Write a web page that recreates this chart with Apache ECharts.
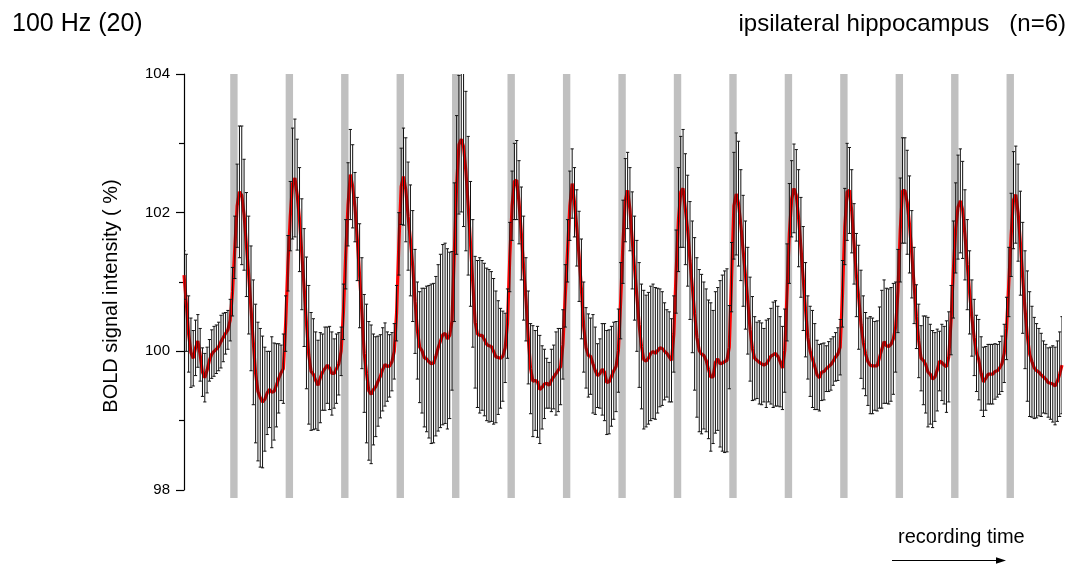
<!DOCTYPE html>
<html>
<head>
<meta charset="utf-8">
<script src="https://cdn.jsdelivr.net/npm/echarts@6/dist/echarts.min.js"></script>
<style>
  html, body { margin: 0; padding: 0; background: #ffffff; }
  #chart { width: 1076px; height: 565px; }
</style>
</head>
<body>
<div id="chart"></div>
<script>
// ---------------- DATA ----------------
// BOLD signal (%) per scan: 20 baseline scans, 15 stimulation cycles of 24 scans, 1 final scan
const meanPre = [101.1, 100.7, 100.25, 99.98, 99.9, 100.05, 100.15, 99.95, 99.7, 99.62,
                 99.73, 99.87, 99.96, 100.0, 100.03, 100.07, 100.14, 100.2, 100.26, 100.31];
const semPre  = [0.35, 0.7, 0.55, 0.5, 0.4, 0.4, 0.38, 0.38, 0.35, 0.35,
                 0.33, 0.3, 0.35, 0.36, 0.35, 0.35, 0.38, 0.35, 0.3, 0.28];

const meanC01 = [100.45, 100.86, 101.5, 102.1, 102.3, 102.25, 101.97, 101.54, 101.1, 100.62, 100.13, 99.68, 99.42, 99.33, 99.27, 99.31, 99.4, 99.45, 99.41, 99.42, 99.51, 99.61, 99.69, 99.75];
const semC01  = [0.3, 0.35, 0.45, 0.6, 0.95, 1.0, 0.8, 0.75, 0.85, 0.9, 0.9, 1.0, 1.0, 1.0, 0.95, 0.75, 0.6, 0.55, 0.8, 0.7, 0.6, 0.5, 0.4, 0.5];
const meanC02 = [100.4, 101.27, 101.95, 102.42, 102.5, 102.26, 101.9, 101.4, 100.92, 100.41, 99.95, 99.71, 99.67, 99.58, 99.51, 99.62, 99.7, 99.75, 99.8, 99.76, 99.68, 99.68, 99.75, 99.82];
const semC02  = [0.4, 0.4, 0.5, 0.8, 0.85, 0.8, 0.75, 0.8, 0.85, 0.95, 1.0, 0.85, 0.8, 0.7, 0.65, 0.65, 0.55, 0.6, 0.55, 0.6, 0.6, 0.5, 0.5, 0.45];
const meanC03 = [100.0, 100.57, 101.4, 102.12, 102.55, 102.38, 102.08, 101.62, 101.09, 100.55, 99.97, 99.68, 99.43, 99.38, 99.45, 99.49, 99.57, 99.64, 99.74, 99.81, 99.78, 99.79, 99.85, 100.0];
const semC03  = [0.35, 0.4, 0.5, 0.6, 0.65, 0.6, 0.5, 0.6, 0.75, 0.8, 0.85, 1.0, 1.0, 1.0, 0.8, 0.72, 0.65, 0.6, 0.6, 0.6, 0.5, 0.45, 0.42, 0.4];
const meanC04 = [100.55, 101.55, 102.38, 102.52, 102.33, 101.95, 101.6, 101.23, 100.72, 100.3, 100.06, 100.01, 99.91, 99.89, 99.85, 99.82, 99.83, 99.93, 100.05, 100.15, 100.24, 100.26, 100.18, 100.23];
const semC04  = [0.4, 0.45, 0.55, 0.7, 0.75, 0.78, 0.8, 0.8, 0.75, 0.7, 0.8, 0.9, 1.0, 1.05, 1.1, 1.15, 1.15, 1.15, 1.2, 1.25, 1.3, 1.3, 1.3, 1.2];
const meanC05 = [100.44, 101.43, 102.4, 102.98, 103.06, 102.95, 102.6, 102.1, 101.55, 100.98, 100.42, 100.25, 100.23, 100.23, 100.17, 100.1, 100.08, 100.07, 100.0, 99.92, 99.91, 99.9, 99.93, 100.05];
const semC05  = [1.0, 1.0, 1.0, 1.0, 1.05, 1.15, 1.15, 1.0, 0.9, 0.92, 0.95, 1.06, 1.12, 1.08, 1.1, 1.1, 1.1, 1.08, 1.05, 0.95, 0.82, 0.72, 0.65, 0.5];
const meanC06 = [100.4, 101.36, 102.1, 102.45, 102.47, 102.15, 101.7, 101.2, 100.75, 100.2, 99.75, 99.57, 99.58, 99.56, 99.45, 99.48, 99.53, 99.54, 99.51, 99.58, 99.63, 99.68, 99.73, 99.78];
const semC06  = [0.5, 0.5, 0.5, 0.55, 0.57, 0.6, 0.67, 0.75, 0.6, 0.67, 0.65, 0.8, 0.72, 0.8, 0.78, 0.6, 0.5, 0.36, 0.33, 0.45, 0.46, 0.6, 0.6, 0.55];
const meanC07 = [100.1, 100.8, 101.45, 102.1, 102.42, 102.15, 101.78, 101.37, 100.9, 100.35, 100.05, 99.94, 99.93, 99.82, 99.72, 99.65, 99.68, 99.74, 99.7, 99.55, 99.56, 99.64, 99.72, 99.78];
const semC07  = [0.5, 0.45, 0.45, 0.5, 0.5, 0.5, 0.55, 0.65, 0.72, 0.65, 0.58, 0.6, 0.55, 0.71, 0.63, 0.46, 0.5, 0.66, 0.7, 0.75, 0.75, 0.72, 0.7, 0.65];
const meanC08 = [100.01, 100.73, 101.58, 102.18, 102.32, 102.05, 101.6, 101.2, 100.8, 100.38, 100.07, 99.88, 99.86, 99.9, 99.97, 100.0, 99.97, 100.01, 100.05, 100.04, 100.0, 99.97, 99.92, 99.87];
const semC08  = [0.6, 0.55, 0.6, 0.6, 0.55, 0.6, 0.7, 0.75, 0.8, 0.9, 0.9, 1.0, 0.95, 0.95, 0.97, 0.97, 0.95, 0.9, 0.85, 0.82, 0.7, 0.63, 0.65, 0.6];
const meanC09 = [100.25, 101.15, 101.9, 102.3, 102.35, 102.05, 101.74, 101.31, 100.93, 100.54, 100.2, 100.01, 99.96, 99.94, 99.87, 99.74, 99.63, 99.63, 99.84, 99.89, 99.82, 99.83, 99.85, 99.87];
const semC09  = [0.55, 0.6, 0.75, 0.8, 0.85, 0.8, 0.8, 0.85, 0.95, 1.1, 1.15, 1.17, 1.15, 1.06, 1.03, 1.0, 1.07, 0.96, 1.02, 1.03, 1.2, 1.27, 1.31, 1.32];
const meanC10 = [100.06, 101.07, 102.1, 102.27, 102.13, 101.82, 101.45, 101.1, 100.73, 100.32, 100.04, 99.9, 99.87, 99.84, 99.82, 99.8, 99.82, 99.87, 99.93, 99.95, 99.97, 99.93, 99.85, 99.76];
const semC10  = [0.6, 0.5, 0.77, 0.88, 0.9, 0.8, 0.8, 0.78, 0.77, 0.75, 0.75, 0.6, 0.55, 0.6, 0.59, 0.53, 0.63, 0.6, 0.69, 0.76, 0.76, 0.72, 0.65, 0.6];
const meanC11 = [100.01, 100.85, 101.7, 102.2, 102.35, 102.25, 101.92, 101.5, 101.05, 100.6, 100.2, 100.0, 99.89, 99.78, 99.66, 99.62, 99.7, 99.71, 99.75, 99.78, 99.81, 99.86, 99.92, 99.96];
const semC11  = [0.6, 0.7, 0.72, 0.55, 0.64, 0.66, 0.7, 0.72, 0.75, 0.68, 0.6, 0.65, 0.7, 0.62, 0.5, 0.48, 0.41, 0.41, 0.33, 0.36, 0.37, 0.35, 0.35, 0.38];
const meanC12 = [100.06, 100.83, 101.8, 102.3, 102.32, 102.02, 101.55, 101.1, 100.78, 100.39, 100.13, 99.96, 99.85, 99.8, 99.79, 99.79, 99.79, 99.91, 100.03, 100.14, 100.08, 100.07, 100.1, 100.18];
const semC12  = [0.4, 0.48, 0.55, 0.7, 0.62, 0.6, 0.58, 0.6, 0.75, 0.78, 0.67, 0.6, 0.63, 0.7, 0.69, 0.64, 0.65, 0.73, 0.85, 0.89, 0.83, 0.83, 0.82, 0.8];
const meanC13 = [100.35, 100.87, 101.75, 102.32, 102.32, 102.15, 101.83, 101.4, 100.95, 100.5, 100.15, 99.9, 99.87, 99.81, 99.7, 99.67, 99.6, 99.63, 99.73, 99.86, 99.84, 99.8, 99.78, 99.92];
const semC13  = [0.65, 0.6, 0.75, 0.76, 0.76, 0.75, 0.7, 0.63, 0.55, 0.46, 0.53, 0.47, 0.64, 0.7, 0.79, 0.72, 0.7, 0.64, 0.59, 0.43, 0.55, 0.56, 0.66, 0.65];
const meanC14 = [100.45, 101.18, 101.78, 102.08, 102.17, 102.04, 101.68, 101.25, 100.85, 100.48, 100.2, 99.97, 99.88, 99.68, 99.56, 99.61, 99.67, 99.67, 99.67, 99.71, 99.72, 99.76, 99.82, 99.97];
const semC14  = [0.5, 0.7, 0.65, 0.75, 0.75, 0.7, 0.65, 0.65, 0.6, 0.55, 0.55, 0.55, 0.58, 0.53, 0.5, 0.46, 0.43, 0.43, 0.43, 0.4, 0.38, 0.38, 0.4, 0.42];
const meanC15 = [100.33, 101.0, 101.68, 102.18, 102.26, 102.0, 101.56, 101.06, 100.6, 100.22, 99.96, 99.85, 99.76, 99.72, 99.7, 99.66, 99.63, 99.6, 99.55, 99.54, 99.53, 99.5, 99.57, 99.67];
const semC15  = [0.45, 0.5, 0.6, 0.7, 0.7, 0.7, 0.75, 0.8, 0.85, 0.94, 0.9, 0.8, 0.73, 0.68, 0.63, 0.6, 0.52, 0.5, 0.5, 0.52, 0.55, 0.56, 0.58, 0.61];
const meanEnd = [99.8];
const semEnd  = [0.7];

// stimulation onsets (scan index) and length (scans)
const stimOnsets = [20, 44, 68, 92, 116, 140, 164, 188, 212, 236, 260, 284, 308, 332, 356];
const stimLength = 3.2;

// axis
const yMin = 98, yMax = 104, yStep = 2;
const texts = {
  left: '100 Hz (20)',
  right: 'ipsilateral hippocampus   (n=6)',
  yName: 'BOLD signal intensity ( %)',
  time: 'recording time'
};

// ---------------- BUILD ----------------
const meanAll = [].concat(meanPre, meanC01, meanC02, meanC03, meanC04, meanC05, meanC06, meanC07,
  meanC08, meanC09, meanC10, meanC11, meanC12, meanC13, meanC14, meanC15, meanEnd);
const semAll = [].concat(semPre, semC01, semC02, semC03, semC04, semC05, semC06, semC07,
  semC08, semC09, semC10, semC11, semC12, semC13, semC14, semC15, semEnd);
const lastIndex = meanAll.length - 1;

const lineData = meanAll.map((v, i) => [i, v]);
const errData = meanAll.map((v, i) => [i, v - semAll[i], v + semAll[i]]);
const stimData = stimOnsets.map(o => [o, o + stimLength]);

const FONT = '"Liberation Sans", Arial, Helvetica, sans-serif';

const chart = echarts.init(document.getElementById('chart'), null, { renderer: 'canvas' });

chart.setOption({
  animation: false,
  backgroundColor: '#ffffff',
  grid: { left: 184, right: 14, top: 74, bottom: 75, containLabel: false },
  xAxis: { type: 'value', min: 0, max: lastIndex, show: false },
  yAxis: {
    type: 'value', min: yMin, max: yMax, interval: yStep,
    axisLine: { show: true, lineStyle: { color: '#000', width: 1.2 } },
    axisTick: { show: true, inside: false, length: 8, lineStyle: { color: '#000', width: 1.2 } },
    minorTick: { show: true, splitNumber: 2, length: 5, lineStyle: { color: '#000', width: 1.2 } },
    splitLine: { show: false },
    minorSplitLine: { show: false },
    axisLabel: { color: '#000', fontSize: 15, fontFamily: FONT, margin: 14 }
  },
  series: [
    {
      type: 'custom',
      name: 'stimulus',
      silent: true,
      clip: false,
      z: 1,
      data: stimData,
      renderItem: function (params, api) {
        const p0 = api.coord([api.value(0), yMax]);
        const p1 = api.coord([api.value(1), yMin]);
        return {
          type: 'rect',
          shape: { x: p0[0], y: p0[1], width: p1[0] - p0[0], height: p1[1] - p0[1] + 8 },
          style: { fill: '#c0c0c0' }
        };
      }
    },
    {
      type: 'line',
      name: 'mean',
      data: lineData,
      showSymbol: false,
      symbol: 'none',
      z: 2,
      lineStyle: { color: '#ff0000', width: 3.2 },
      silent: true
    },
    {
      type: 'custom',
      name: 'sem',
      silent: true,
      clip: true,
      z: 3,
      data: errData,
      renderItem: function (params, api) {
        const x = api.value(0);
        const lo = api.coord([x, api.value(1)]);
        const hi = api.coord([x, api.value(2)]);
        const half = 1.6;
        const st = { stroke: '#111', lineWidth: 1 };
        return {
          type: 'group',
          children: [
            { type: 'line', shape: { x1: lo[0], y1: lo[1], x2: hi[0], y2: hi[1] }, style: st },
            { type: 'line', shape: { x1: hi[0] - half, y1: hi[1], x2: hi[0] + half, y2: hi[1] }, style: st },
            { type: 'line', shape: { x1: lo[0] - half, y1: lo[1], x2: lo[0] + half, y2: lo[1] }, style: st }
          ]
        };
      }
    }
  ],
  graphic: [
    { type: 'text', left: 12, top: 12,
      style: { text: texts.left, font: '25px ' + FONT, fill: '#000' } },
    { type: 'text', right: 10, top: 12,
      style: { text: texts.right, font: '24px ' + FONT, fill: '#000' } },
    { type: 'text', x: 111, y: 296, rotation: Math.PI / 2,
      style: { text: texts.yName, font: '20px ' + FONT, fill: '#000', align: 'center', verticalAlign: 'middle' } },
    { type: 'text', x: 898, y: 537,
      style: { text: texts.time, font: '20px ' + FONT, fill: '#000', align: 'left', verticalAlign: 'middle' } },
    { type: 'line', shape: { x1: 892, y1: 560.5, x2: 998, y2: 560.5 }, style: { stroke: '#000', lineWidth: 1.2 } },
    { type: 'polygon', shape: { points: [[1006, 560.5], [996, 557.2], [996, 563.8]] }, style: { fill: '#000' } }
  ]
});
</script>
</body>
</html>
